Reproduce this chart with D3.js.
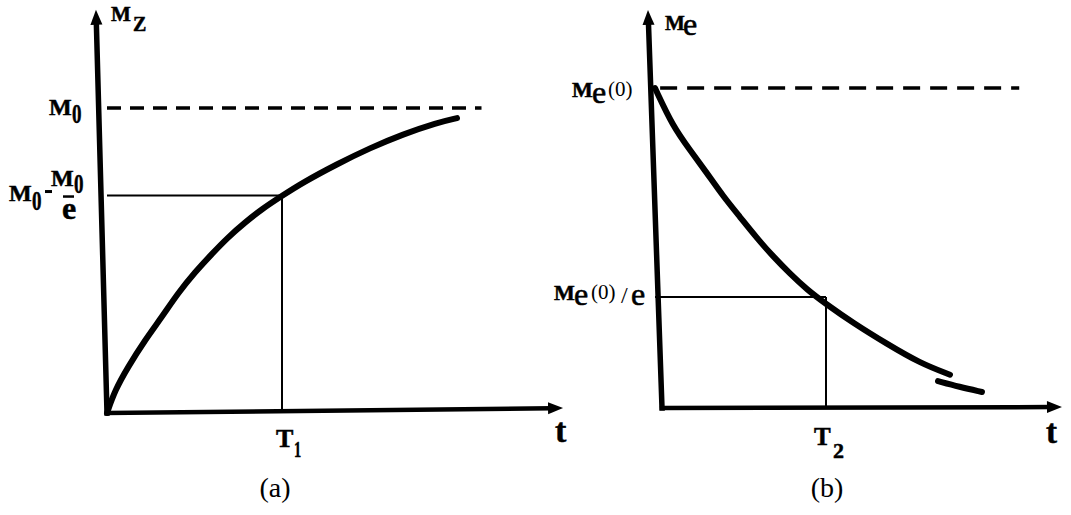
<!DOCTYPE html>
<html>
<head>
<meta charset="utf-8">
<script src="https://cdn.jsdelivr.net/npm/d3@7"></script>
<style>
  html, body { margin: 0; padding: 0; background: #fff; }
  svg { display: block; }
  text { font-family: "Liberation Serif", "Times New Roman", serif; fill: #000; }
</style>
</head>
<body>
<svg id="chart" width="1071" height="515"></svg>
<script>
// ---- Panel (a): growth of Mz toward M0, time in units of T1 ----
const curveA = [[0, 0], [0.046, 0.075], [0.12, 0.151], [0.217, 0.239], [0.314, 0.315],
  [0.406, 0.393], [0.503, 0.462], [0.6, 0.522], [0.691, 0.576], [0.789, 0.625],
  [0.886, 0.669], [1.0, 0.712], [1.12, 0.756], [1.314, 0.816], [1.503, 0.869],
  [1.691, 0.914], [1.886, 0.952], [2.0, 0.967]];
const levelsA = [1.0, 0.713];          // M0, M0 - M0/e
const markTA = 1.0;                    // T1
const asymptoteA = [0, 2.14];          // extent of the dashed M0 line
const xAxisA = [[0, 0], [2.606, 0.016]];
const yAxisA = [[0, 0], [-0.063, 1.322]];

// ---- Panel (b): decay of Me from Me(0), time in units of T2 ----
const curveB = [[0, 1], [0.105, 0.88], [0.205, 0.806], [0.304, 0.734], [0.398, 0.662],
  [0.497, 0.597], [0.596, 0.531], [0.69, 0.474], [0.789, 0.42], [0.889, 0.37],
  [1.0, 0.325], [1.158, 0.266], [1.357, 0.2], [1.55, 0.14], [1.725, 0.104]];
const curveBTail = [[1.655, 0.084], [1.78, 0.066], [1.912, 0.05]];
const levelsB = [1.0, 0.347];          // Me(0), Me(0)/e
const markTB = 1.0;                    // T2
const asymptoteB = [0.03, 2.13];
const xAxisB = [[0.041, 0], [2.38, 0.003]];
const yAxisB = [[0.041, 0], [-0.041, 1.244]];

const captions = ["(a)", "(b)"];

const svg = d3.select("#chart");

const xA = d3.scaleLinear().domain([0, 1]).range([107, 282]);
const yA = d3.scaleLinear().domain([0, 1]).range([413, 108]);
const xB = d3.scaleLinear().domain([0, 1]).range([655, 826]);
const yB = d3.scaleLinear().domain([0, 1]).range([408, 88]);

function arrowAxis(g, pts, x, y, width, len, half) {
  const p0 = [x(pts[0][0]), y(pts[0][1])];
  const p1 = [x(pts[1][0]), y(pts[1][1])];
  const dx = p1[0] - p0[0], dy = p1[1] - p0[1];
  const L = Math.hypot(dx, dy), ux = dx / L, uy = dy / L;
  const b = [p1[0] - ux * len, p1[1] - uy * len];
  g.append("line")
    .attr("x1", p0[0]).attr("y1", p0[1])
    .attr("x2", b[0] + ux * 2).attr("y2", b[1] + uy * 2)
    .attr("stroke", "#000").attr("stroke-width", width).attr("stroke-linecap", "square");
  g.append("path")
    .attr("d", `M${p1[0]},${p1[1]}L${b[0] - uy * half},${b[1] + ux * half}L${b[0] + uy * half},${b[1] - ux * half}Z`)
    .attr("fill", "#000");
}

function txt(g, x, y, s, size, weight, anchor, sx) {
  const t = g.append("text")
    .attr("font-size", size)
    .attr("font-weight", weight || "normal")
    .attr("text-anchor", anchor || "start")
    .text(s);
  if (weight === "bold") t.attr("stroke", "#000").attr("stroke-width", 0.5);
  if (sx) t.attr("transform", `translate(${x},${y}) scale(${sx},1)`);
  else t.attr("x", x).attr("y", y);
  return t;
}

function panel(cfg) {
  const g = svg.append("g");
  const { x, y } = cfg;
  const line = d3.line().x(d => x(d[0])).y(d => y(d[1])).curve(d3.curveBasis);

  // dashed asymptote
  g.append("line")
    .attr("x1", x(cfg.asym[0])).attr("x2", x(cfg.asym[1]))
    .attr("y1", y(cfg.levels[0])).attr("y2", y(cfg.levels[0]))
    .attr("stroke", "#000").attr("stroke-width", 3.5)
    .attr("stroke-dasharray", cfg.dash);

  // guide lines at the characteristic time
  g.append("line")
    .attr("x1", x(0)).attr("x2", x(cfg.markT))
    .attr("y1", y(cfg.levels[1])).attr("y2", y(cfg.levels[1]))
    .attr("stroke", "#000").attr("stroke-width", 2);
  g.append("line")
    .attr("x1", x(cfg.markT)).attr("x2", x(cfg.markT))
    .attr("y1", y(cfg.levels[1])).attr("y2", y(0))
    .attr("stroke", "#000").attr("stroke-width", 2);

  // axes with arrow heads
  arrowAxis(g, cfg.xAxis, x, y, 4.5, 15, 6);
  arrowAxis(g, cfg.yAxis, x, y, 5.5, 15, 6);

  // curves
  cfg.curves.forEach(c => {
    g.append("path").attr("d", line(c))
      .attr("fill", "none").attr("stroke", "#000")
      .attr("stroke-width", 6).attr("stroke-linecap", "round");
  });
  return g;
}

const gA = panel({ x: xA, y: yA, levels: levelsA, markT: markTA, asym: asymptoteA,
  xAxis: xAxisA, yAxis: yAxisA, curves: [curveA], dash: "14,9" });
const gB = panel({ x: xB, y: yB, levels: levelsB, markT: markTB, asym: asymptoteB,
  xAxis: xAxisB, yAxis: yAxisB, curves: [curveB, curveBTail], dash: "17,10" });

// ---- labels, panel (a) ----
const ya1 = yA(levelsA[0]), ya2 = yA(levelsA[1]);
txt(gA, 111, 21, "M", 21, "bold");
txt(gA, 133, 31, "Z", 20, "bold");
txt(gA, 49, ya1 + 7, "M", 24, "bold");
txt(gA, 72, ya1 + 15, "0", 28, "bold", "start", 0.68);
txt(gA, 9, ya2 + 5, "M", 24, "bold");
txt(gA, 32, ya2 + 14, "0", 28, "bold", "start", 0.68);
gA.append("line").attr("x1", 45).attr("x2", 52).attr("y1", ya2 - 4).attr("y2", ya2 - 4)
  .attr("stroke", "#000").attr("stroke-width", 3);
txt(gA, 51, ya2 - 10, "M", 24, "bold");
txt(gA, 74, ya2 - 3, "0", 28, "bold", "start", 0.68);
gA.append("line").attr("x1", 63).attr("x2", 74).attr("y1", ya2 + 1).attr("y2", ya2 + 1)
  .attr("stroke", "#000").attr("stroke-width", 2.5);
txt(gA, 69, ya2 + 23, "e", 32, "bold", "middle");
txt(gA, 276, 447, "T", 26, "bold");
txt(gA, 294, 457, "1", 24, "bold", "start", 0.6);
txt(gA, 555, 442, "t", 34, "bold");
txt(gA, 275, 497, captions[0], 28, "normal", "middle");

// ---- labels, panel (b) ----
const yb1 = yB(levelsB[0]), yb2 = yB(levelsB[1]);
txt(gB, 665, 30, "M", 21, "bold");
txt(gB, 683, 35, "e", 32, "normal").attr("stroke", "#000").attr("stroke-width", 0.6);
txt(gB, 572, yb1 + 9, "M", 22, "bold");
txt(gB, 592, yb1 + 15, "e", 32, "normal").attr("stroke", "#000").attr("stroke-width", 0.6);
txt(gB, 608, yb1 + 8, "(0)", 21, "normal");
txt(gB, 554, yb2 + 3, "M", 22, "bold");
txt(gB, 574, yb2 + 8, "e", 32, "normal").attr("stroke", "#000").attr("stroke-width", 0.6);
txt(gB, 591, yb2 + 2, "(0)", 21, "normal");
txt(gB, 621, yb2 + 6, "/", 24, "normal");
txt(gB, 631, yb2 + 8, "e", 32, "normal").attr("stroke", "#000").attr("stroke-width", 0.6);
txt(gB, 814, 445, "T", 25, "bold");
txt(gB, 833, 458, "2", 22, "bold");
txt(gB, 1046, 443, "t", 33, "bold");
txt(gB, 827, 497, captions[1], 28, "normal", "middle");
</script>
</body>
</html>
